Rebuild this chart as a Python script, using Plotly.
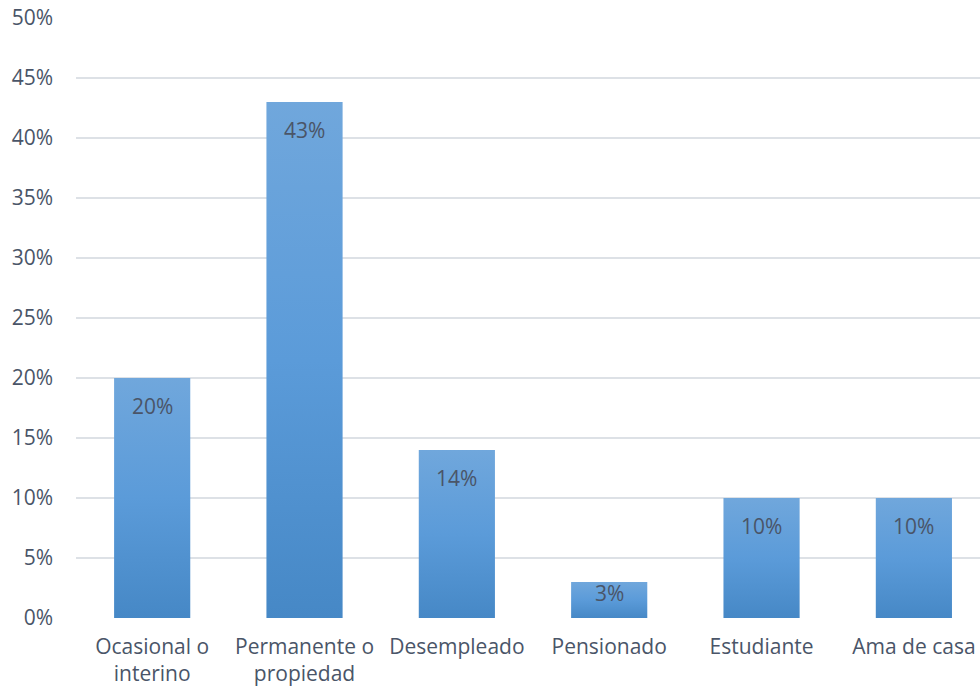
import plotly.graph_objects as go

# Situación laboral de los encuestados (proporción)
categorias = ["Ocasional o<br>interino", "Permanente o<br>propiedad", "Desempleado",
              "Pensionado", "Estudiante", "Ama de casa"]
valores = [0.20, 0.43, 0.14, 0.03, 0.10, 0.10]
etiquetas_y = ["0%", "5%", "10%", "15%", "20%", "25%", "30%", "35%", "40%", "45%", "50%"]
valores_y = [i * 0.05 for i in range(len(etiquetas_y))]

ANCHO = 0.5
ALTO_PX = 600 / 0.5  # píxeles por unidad del eje y
TEXTO = "#4a5568"
FUENTE = "'Open Sans', sans-serif"
TAM = 21
degradado = [[0.0, "#4688c6"], [0.5, "#5b9bd9"], [1.0, "#70a7dc"]]

fig = go.Figure()

# Cada barra se rellena con un degradado vertical
for i, v in enumerate(valores):
    x0, x1 = i - ANCHO / 2, i + ANCHO / 2
    fig.add_trace(go.Scatter(
        x=[x0, x1, x1, x0, x0],
        y=[0, 0, v, v, 0],
        mode="lines",
        line=dict(width=0, color="rgba(0,0,0,0)"),
        fill="toself",
        fillgradient=dict(type="vertical", start=0, stop=v, colorscale=degradado),
        hoverinfo="skip",
        showlegend=False,
    ))

# Etiquetas de valor dentro de cada barra, cerca del extremo superior
for i, v in enumerate(valores):
    desplazamiento = min(28, v * ALTO_PX * 0.3)
    fig.add_annotation(
        x=i, y=v, text=f"{round(v * 100)}%", showarrow=False,
        yanchor="middle", yshift=-desplazamiento,
        font=dict(family=FUENTE, size=TAM, color=TEXTO),
    )

fig.update_layout(
    width=980, height=690,
    margin=dict(l=76, r=0, t=18, b=72),
    paper_bgcolor="white", plot_bgcolor="white",
    font=dict(family=FUENTE, size=TAM, color=TEXTO),
    showlegend=False,
    xaxis=dict(
        range=[-0.5, 5.434],
        tickmode="array",
        tickvals=list(range(len(categorias))),
        ticktext=categorias,
        showgrid=False, zeroline=False, showline=False, ticks="",
        ticklabelstandoff=14,
        tickfont=dict(family=FUENTE, size=TAM, color=TEXTO),
        fixedrange=True,
    ),
    yaxis=dict(
        range=[0, 0.5],
        tickmode="array",
        tickvals=valores_y,
        ticktext=etiquetas_y,
        showgrid=True, gridcolor="#dde1e6", gridwidth=2,
        zeroline=False, showline=False, ticks="",
        ticklabelstandoff=22,
        tickfont=dict(family=FUENTE, size=TAM, color=TEXTO),
        fixedrange=True,
    ),
)

fig.write_html("out.html")
